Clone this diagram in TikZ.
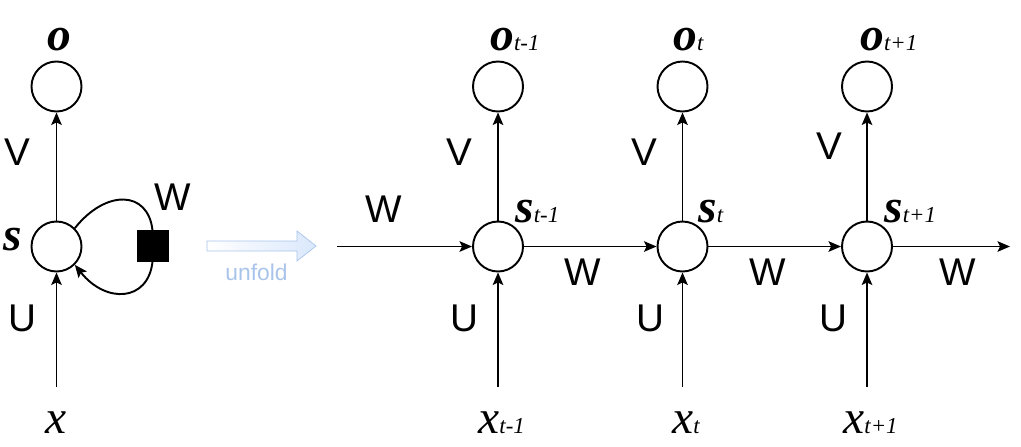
\documentclass[tikz,border=0pt]{standalone}
\usepackage{fontspec}
\setmainfont{Liberation Serif}[BoldItalicFont={Liberation Serif Bold Italic},ItalicFont={Liberation Serif Italic}]
\setsansfont{Liberation Sans}
\usepackage{tikz}
\usetikzlibrary{positioning,arrows.meta}
\definecolor{unfoldline}{HTML}{A9C4EB}
\definecolor{unfoldfill}{HTML}{DAE8FC}
\tikzstyle{line} = [draw,line width=1.1pt]
\tikzstyle{arrow} = [draw,line width=1.1pt,-{Stealth[length=0.25cm,width=0.21cm,inset=0.05cm]}]
\tikzstyle{neuron} = [circle,draw,line width=1.1pt,minimum size=1cm,inner sep=0pt]
\tikzstyle{weight} = [font=\sffamily\fontsize{22}{24}\selectfont,inner sep=0pt]
\tikzstyle{var} = [anchor=base west,inner sep=0pt]
\newcommand{\vname}[2]{{\fontsize{27}{30}\selectfont\bfseries\itshape #1}{\fontsize{13}{15}\selectfont\itshape #2}}
\newcommand{\xname}[2]{{\fontsize{27}{30}\selectfont\itshape #1}{\fontsize{13}{15}\selectfont\itshape #2}}

\begin{document}
\begin{tikzpicture}[auto,node distance=3.69cm]
  \useasboundingbox (0,0) rectangle (20.42,-8.92);
  % folded network
  \node[neuron] (s) at (1.13,-4.93) {};
  \node[neuron, node distance=3.2cm] (o) [above of=s] {};
  \coordinate[below of=s, node distance=2.8cm] (in);
  \node[draw, fill=black, minimum size=0.62cm, inner sep=0pt] (sq) at (3.05,-4.92) {};
  \path [arrow] (s) -- (o);
  \path [arrow] (in) -- (s);
  \path [line] (s.45) .. controls +(0.62,0.78) and +(-0.09,0.8) .. (sq.north);
  \path [arrow] (sq.south) .. controls +(-0.09,-0.8) and +(0.62,-0.78) .. (s.-45);
  \node[var] (olabel) at (0.94,-1.0) {\vname{o}{}};
  \node[var] (slabel) at (0.06,-5.0) {\vname{s}{}};
  \node[var] (xlabel) at (0.9,-8.66) {\xname{x}{}};
  \node[weight] (vlabel) at (0.35,-3.04) {V};
  \node[weight] (ulabel) at (0.44,-6.36) {U};
  \node[weight] (wlabel) at (3.46,-3.94) {W};

  % unfold arrow
  \draw[unfoldline, left color=white, right color=unfoldfill]
    (4.14,-4.82) -- (5.94,-4.82) -- (5.94,-4.62) -- (6.32,-4.92)
    -- (5.94,-5.22) -- (5.94,-5.02) -- (4.14,-5.02) -- cycle;
  \node[anchor=base west, inner sep=0pt, text=unfoldline, font=\sffamily\fontsize{13}{15}\selectfont] (unfold) at (4.5,-5.6) {unfold};

  % unfolded network
  \node[neuron] (s1) at (9.96,-4.93) {};
  \node[neuron] (s2) [right of=s1] {};
  \node[neuron] (s3) [right of=s2] {};
  \node[neuron, node distance=3.2cm] (o1) [above of=s1] {};
  \node[neuron, node distance=3.2cm] (o2) [above of=s2] {};
  \node[neuron, node distance=3.2cm] (o3) [above of=s3] {};
  \coordinate[below of=s1, node distance=2.8cm] (in1);
  \coordinate[below of=s2, node distance=2.8cm] (in2);
  \coordinate[below of=s3, node distance=2.8cm] (in3);
  \coordinate (win) at (6.74,-4.93);
  \coordinate (wout) at (20.2,-4.93);
  \path [arrow] (win) -- (s1);
  \path [arrow] (s1) -- (s2);
  \path [arrow] (s2) -- (s3);
  \path [arrow] (s3) -- (wout);
  \path [arrow] (s1) -- (o1);
  \path [arrow] (s2) -- (o2);
  \path [arrow] (s3) -- (o3);
  \path [arrow] (in1) -- (s1);
  \path [arrow] (in2) -- (s2);
  \path [arrow] (in3) -- (s3);

  \node[var] (o1label) at (9.8,-1.0) {\vname{o}{t-1}};
  \node[var] (o2label) at (13.46,-1.0) {\vname{o}{t}};
  \node[var] (o3label) at (17.2,-1.0) {\vname{o}{t+1}};
  \node[var] (s1label) at (10.3,-4.44) {\vname{s}{t-1}};
  \node[var] (s2label) at (13.96,-4.44) {\vname{s}{t}};
  \node[var] (s3label) at (17.68,-4.44) {\vname{s}{t+1}};
  \node[var] (x1label) at (9.56,-8.66) {\xname{x}{t-1}};
  \node[var] (x2label) at (13.44,-8.66) {\xname{x}{t}};
  \node[var] (x3label) at (16.86,-8.66) {\xname{x}{t+1}};

  \node[weight] (w0label) at (7.68,-4.18) {W};
  \node[weight] (w1label) at (11.66,-5.44) {W};
  \node[weight] (w2label) at (15.36,-5.44) {W};
  \node[weight] (w3label) at (19.16,-5.44) {W};
  \node[weight] (v1label) at (9.18,-3.04) {V};
  \node[weight] (v2label) at (12.88,-3.04) {V};
  \node[weight] (v3label) at (16.58,-2.92) {V};
  \node[weight] (u1label) at (9.28,-6.36) {U};
  \node[weight] (u2label) at (13.0,-6.36) {U};
  \node[weight] (u3label) at (16.66,-6.36) {U};
\end{tikzpicture}
\end{document}
